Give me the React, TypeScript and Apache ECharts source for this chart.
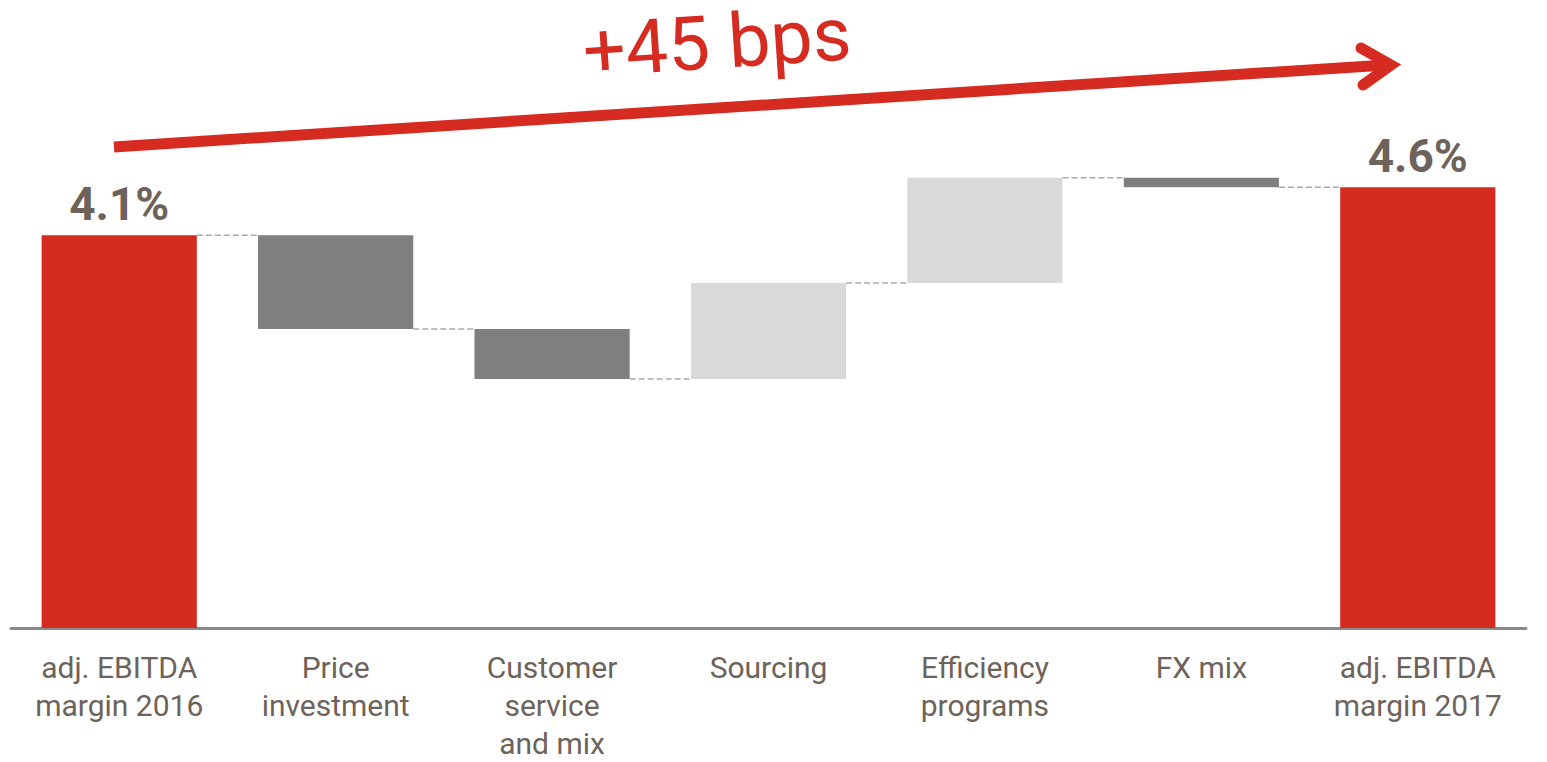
import React, { useEffect, useRef } from "react";
import * as echarts from "echarts";

const categories = [
  "adj. EBITDA\nmargin 2016",
  "Price\ninvestment",
  "Customer\nservice\nand mix",
  "Sourcing",
  "Efficiency\nprograms",
  "FX mix",
  "adj. EBITDA\nmargin 2017",
];
const startValue = 4.1;
const deltas = [-0.98, -0.52, 1.0, 1.1, -0.1];
const endValue = 4.6;
const titleText = "+45 bps";

const RED = "#d62b20";
const DARK = "#7f7f7f";
const LIGHT = "#d9d9d9";
const TEXT = "#6e635a";
const BAR_RATIO = 0.717;

function build() {
  const base: (number | string)[] = ["-"];
  const neg: (number | string)[] = ["-"];
  const pos: (number | string)[] = ["-"];
  const total: (number | string)[] = [startValue];
  const levels: number[] = [startValue];
  let cur = startValue;
  deltas.forEach((d) => {
    const next = +(cur + d).toFixed(4);
    base.push(Math.min(cur, next));
    neg.push(d < 0 ? -d : "-");
    pos.push(d > 0 ? d : "-");
    total.push("-");
    levels.push(next);
    cur = next;
  });
  base.push("-");
  neg.push("-");
  pos.push("-");
  total.push(endValue);
  return { base, neg, pos, total, levels };
}

export default function App() {
  const ref = useRef<HTMLDivElement>(null);
  useEffect(() => {
    document.body.style.margin = "0";
    if (!ref.current) return;
    const chart = echarts.init(ref.current, undefined, { renderer: "svg" });
    const { base, neg, pos, total, levels } = build();
    const connectors = levels.map((v, i) => [i, v]);
    const barCommon = { type: "bar", stack: "w", barWidth: BAR_RATIO * 100 + "%" };
    chart.setOption({
      animation: false,
      grid: { left: 11, right: 21, top: 149, bottom: 129 },
      xAxis: {
        type: "category",
        data: categories,
        axisTick: { show: false },
        axisLine: { lineStyle: { color: "#8a8a8a", width: 3 } },
        axisLabel: {
          interval: 0,
          color: TEXT,
          fontFamily: "Roboto",
          fontSize: 30,
          lineHeight: 38,
          margin: 20,
        },
      },
      yAxis: { type: "value", min: 0, max: 5, show: false },
      series: [
        { ...barCommon, name: "base", data: base, itemStyle: { color: "transparent" }, silent: true },
        { ...barCommon, name: "neg", data: neg, itemStyle: { color: DARK } },
        { ...barCommon, name: "pos", data: pos, itemStyle: { color: LIGHT } },
        {
          ...barCommon,
          name: "total",
          data: total,
          itemStyle: { color: RED },
          label: {
            show: true,
            position: "top",
            distance: 8,
            formatter: "{c}%",
            color: TEXT,
            fontFamily: "Roboto",
            fontWeight: "bold",
            fontSize: 46,
          },
        },
        {
          type: "custom",
          name: "connectors",
          data: connectors,
          z: 1,
          renderItem: (params: any, api: any) => {
            const p = api.coord([api.value(0), api.value(1)]);
            const bw = api.size([1, 0])[0];
            const half = (bw * BAR_RATIO) / 2;
            return {
              type: "line",
              shape: { x1: p[0] + half, y1: p[1], x2: p[0] + bw - half, y2: p[1] },
              style: { stroke: "#aaaaaa", lineWidth: 1.5, lineDash: [6, 3] },
            };
          },
        },
      ],
      graphic: [
        {
          type: "line",
          shape: { x1: 114, y1: 147, x2: 1386, y2: 65 },
          style: { stroke: RED, lineWidth: 11, lineCap: "butt" },
        },
        {
          type: "polyline",
          shape: { points: [[1361, 48], [1391, 65], [1363, 85]] },
          style: { stroke: RED, fill: "none", lineWidth: 11, lineCap: "round", lineJoin: "miter", miterLimit: 10 },
        },
        {
          type: "text",
          x: 717,
          y: 42,
          rotation: 0.066,
          style: {
            text: titleText,
            fill: RED,
            fontFamily: "Roboto",
            fontSize: 75,
            lineHeight: 62,
            align: "center",
            verticalAlign: "middle",
          },
        },
      ],
    });
    return () => chart.dispose();
  }, []);
  return <div ref={ref} style={{ width: 1547, height: 762 }} />;
}
